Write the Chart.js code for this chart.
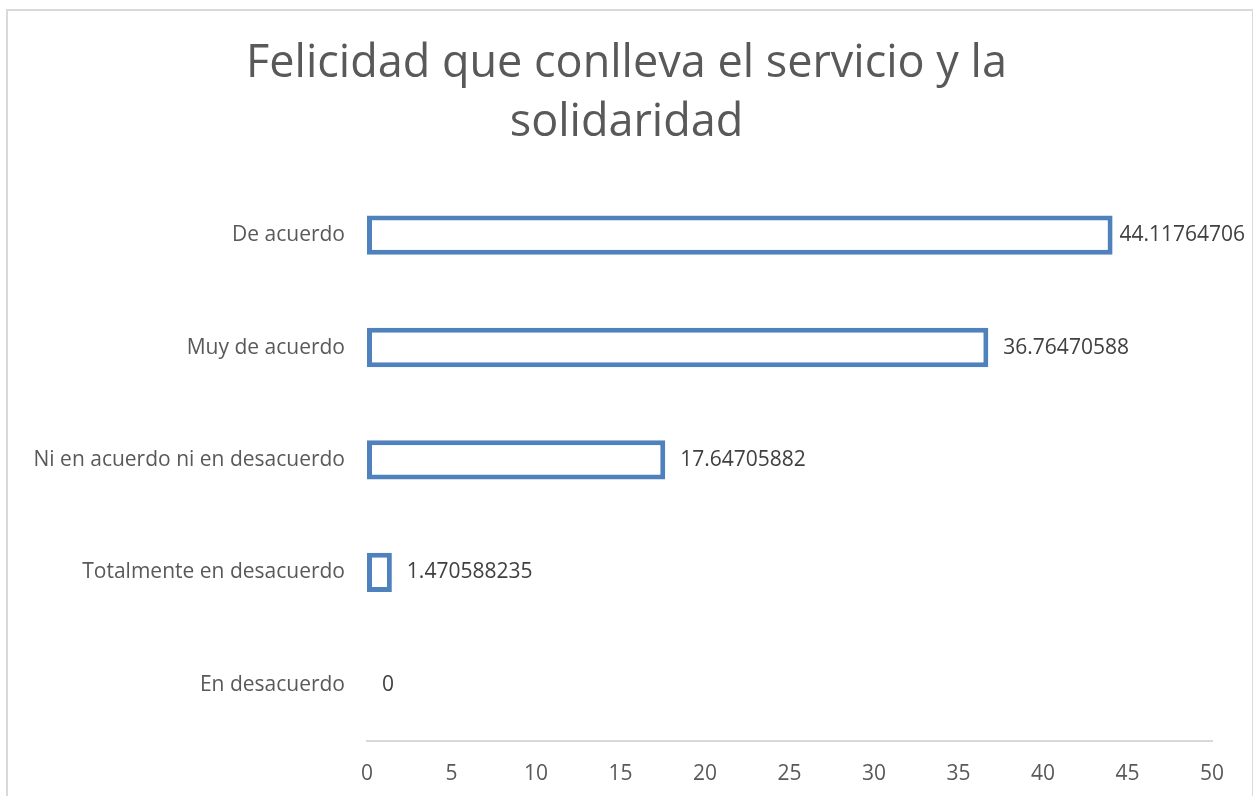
<!DOCTYPE html>
<html>
<head>
<meta charset="utf-8">
<script src="https://cdn.jsdelivr.net/npm/chart.js@4"></script>
<style>
  body { margin: 0; background: #fff; }
  #wrap { position: relative; width: 1253px; height: 796px; overflow: hidden; }
  #frame { position: absolute; left: 6px; top: 9px; width: 1244px; height: 820px;
           border: 2px solid #d9d9d9; border-bottom: none; }
  canvas { position: absolute; left: 0; top: 0; }
</style>
</head>
<body>
<div id="wrap">
  <div id="frame"></div>
  <canvas id="barChart" width="1253" height="796"></canvas>
</div>
<script>
// Data
const categories = ["De acuerdo", "Muy de acuerdo", "Ni en acuerdo ni en desacuerdo", "Totalmente en desacuerdo", "En desacuerdo"];
const values = [44.11764706, 36.76470588, 17.64705882, 1.470588235, 0];
const titleLines = ["Felicidad que conlleva el servicio y la", "solidaridad"];
const xMin = 0, xMax = 50, xStep = 5;

const FONT = "'Open Sans', sans-serif";

// value labels next to each bar
const valueLabels = {
  id: "valueLabels",
  afterDatasetsDraw(chart) {
    const ctx = chart.ctx;
    const meta = chart.getDatasetMeta(0);
    ctx.save();
    ctx.font = "21px " + FONT;
    ctx.fillStyle = "#404040";
    ctx.textBaseline = "middle";
    meta.data.forEach(function (bar, i) {
      const text = String(values[i]);
      const w = ctx.measureText(text).width;
      let x = bar.x + 15;
      if (x + w > chart.width - 8) x = chart.width - 8 - w;
      ctx.fillText(text, x, bar.y);
    });
    ctx.restore();
  }
};

const ctx = document.getElementById("barChart").getContext("2d");
new Chart(ctx, {
  type: "bar",
  data: {
    labels: categories,
    datasets: [
      {
        data: values,
        backgroundColor: "#ffffff",
        borderColor: "#4f81bd",
        borderWidth: 5,
        borderSkipped: false,
        barPercentage: 0.35,
        categoryPercentage: 1.0,
      },
    ],
  },
  options: {
    indexAxis: "y",
    responsive: false,
    animation: false,
    layout: { padding: 0 },
    scales: {
      x: {
        min: xMin,
        max: xMax,
        grid: { display: false, drawTicks: false },
        border: { display: true, color: "#d9d9d9", width: 2 },
        ticks: { stepSize: xStep, padding: 20, color: "#595959", font: { family: FONT, size: 21 } },
        afterFit(scale) { scale.height = 55; },
      },
      y: {
        grid: { display: false, drawTicks: false },
        border: { display: false },
        ticks: { padding: 22, color: "#595959", font: { family: FONT, size: 21 } },
        afterFit(scale) { scale.width = 367; },
      },
      // empty right-hand axis: keeps room on the right so the title stays centred on the page
      spacer: {
        type: "linear",
        position: "right",
        grid: { display: false, drawTicks: false },
        border: { display: false },
        ticks: { display: false },
        afterFit(scale) { scale.width = 41; },
      },
    },
    plugins: {
      legend: { display: false },
      tooltip: { enabled: false },
      title: {
        display: true,
        text: titleLines,
        color: "#595959",
        font: { family: FONT, size: 45, weight: "normal", lineHeight: 1.31 },
        padding: { top: 35, bottom: 26 },
      },
    },
  },
  plugins: [valueLabels],
});
</script>
</body>
</html>
